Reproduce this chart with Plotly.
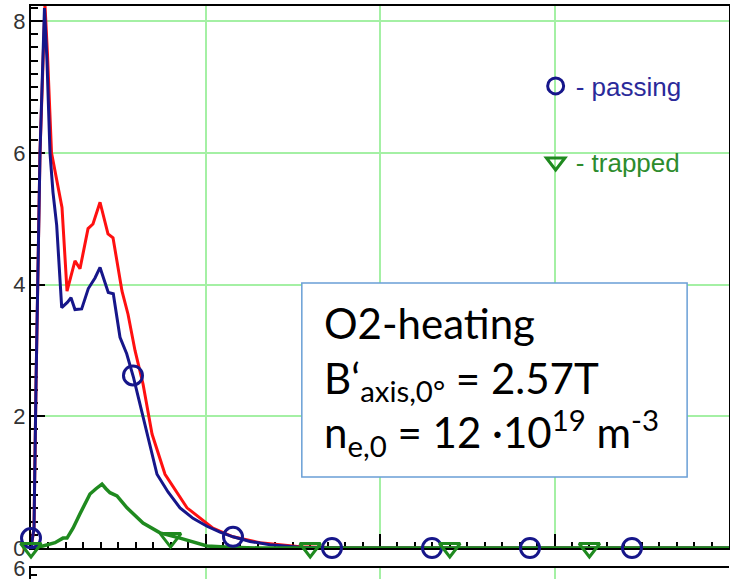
import plotly.graph_objects as go

# ---- data (x in normalised units, y values) ----
total_x = [0.0, 0.0043, 0.0072, 0.0129, 0.0200, 0.0236, 0.0294, 0.0372, 0.0444, 0.0516,
           0.0630, 0.0702, 0.0817, 0.0888, 0.0989, 0.1103, 0.1175, 0.1304, 0.1390, 0.1490,
           0.1605, 0.1734, 0.1920, 0.2235, 0.2607, 0.2894, 0.3281, 0.3854, 0.4570, 1.0]
total_y = [0.0, 0.3, 2.5, 6.0, 8.25, 7.5, 6.0, 5.58, 5.17, 3.9,
           4.36, 4.24, 4.85, 4.92, 5.25, 4.77, 4.71, 3.9, 3.55, 3.0,
           2.49, 1.73, 1.12, 0.61, 0.30, 0.17, 0.08, 0.02, 0.0, 0.0]

passing_x = [0.0, 0.0043, 0.0072, 0.0129, 0.0193, 0.0229, 0.0272, 0.0315, 0.0368, 0.0440,
             0.0520, 0.0573, 0.0630, 0.0726, 0.0821, 0.0917, 0.0989, 0.1107, 0.1179, 0.1275,
             0.1371, 0.1466, 0.1537, 0.1662, 0.1805, 0.1963, 0.2135, 0.2321, 0.2521, 0.2708,
             0.2894, 0.3138, 0.3424, 0.3854, 0.4570, 1.0]
passing_y = [0.0, 0.3, 2.5, 6.0, 8.2, 7.4, 6.0, 5.4, 4.9, 3.65,
             3.73, 3.80, 3.62, 3.63, 3.94, 4.10, 4.26, 3.88, 3.86, 3.2,
             2.95, 2.60, 2.29, 1.73, 1.12, 0.85, 0.61, 0.45, 0.33, 0.24,
             0.17, 0.10, 0.05, 0.01, 0.0, 0.0]

trapped_x = [0.0, 0.0172, 0.0344, 0.0458, 0.0516, 0.0602, 0.0702, 0.0845, 0.0931, 0.1017,
             0.1074, 0.1132, 0.1232, 0.1375, 0.1605, 0.1848, 0.2135, 0.2521, 0.2851, 0.3281, 1.0]
trapped_y = [0.0, 0.03, 0.08, 0.15, 0.15, 0.30, 0.52, 0.82, 0.90, 0.97,
             0.90, 0.84, 0.79, 0.61, 0.38, 0.23, 0.15, 0.03, 0.01, 0.0, 0.0]

passing_mark_x = [0.0, 0.1461, 0.2894, 0.4312, 0.5745, 0.7149, 0.8610]
passing_mark_y = [0.15, 2.62, 0.17, 0.0, 0.0, 0.0, 0.0]
trapped_mark_x = [0.0, 0.2, 0.4, 0.6, 0.8]
trapped_mark_y = [0.0, 0.15, 0.0, 0.0, 0.0]

y_ticks = [0, 2, 4, 6, 8]
lower_ticks = [6]

RED = "#ff1010"
NAVY = "#16168a"
GREEN = "#1f8a1f"
GRID = "#a4f0a4"

fig = go.Figure()
fig.add_trace(go.Scatter(x=total_x, y=total_y, mode="lines", line=dict(color=RED, width=3),
                         showlegend=False, cliponaxis=False))
fig.add_trace(go.Scatter(x=passing_x, y=passing_y, mode="lines", line=dict(color=NAVY, width=3),
                         showlegend=False, cliponaxis=False))
fig.add_trace(go.Scatter(x=trapped_x, y=trapped_y, mode="lines", line=dict(color=GREEN, width=3.5),
                         showlegend=False, cliponaxis=False))
fig.add_trace(go.Scatter(x=passing_mark_x, y=passing_mark_y, mode="markers", name="- passing",
                         marker=dict(symbol="circle-open", size=19, color=NAVY, line=dict(width=3, color=NAVY)),
                         cliponaxis=False, legend="legend"))
fig.add_trace(go.Scatter(x=trapped_mark_x, y=trapped_mark_y, mode="markers", name="- trapped",
                         marker=dict(symbol="triangle-down-open", size=18, color=GREEN, line=dict(width=3, color=GREEN)),
                         cliponaxis=False, legend="legend2"))
# lower (cut-off) panel
fig.add_trace(go.Scatter(x=[0.5], y=[5.0], mode="markers", xaxis="x2", yaxis="y2",
                         marker=dict(size=1, color="rgba(0,0,0,0)"), showlegend=False, hoverinfo="skip"))

tickfont = dict(family="Liberation Sans", size=22, color="#333333")

fig.update_layout(
    width=730, height=579,
    margin=dict(l=31, r=1, t=6, b=0),
    paper_bgcolor="white", plot_bgcolor="white",
    xaxis=dict(range=[0, 1], domain=[0, 1], anchor="y", showticklabels=False,
               ticks="inside", ticklen=14, tickwidth=1.5, tickcolor="black", tick0=0, dtick=0.25,
               minor=dict(dtick=0.025, ticks="inside", ticklen=6, tickwidth=1.5, tickcolor="black", showgrid=False),
               showgrid=True, gridcolor=GRID, gridwidth=1.5, zeroline=False,
               showline=True, linecolor="black", linewidth=2, mirror=True, layer="below traces"),
    yaxis=dict(range=[0, 8.23], domain=[0.0541, 1], anchor="x", tickvals=y_ticks,
               ticks="inside", ticklen=14, tickwidth=1.5, tickcolor="black",
               minor=dict(dtick=0.2, ticks="inside", ticklen=7, tickwidth=1.5, tickcolor="black", showgrid=False),
               showgrid=True, gridcolor=GRID, gridwidth=1.5, zeroline=False,
               showline=True, linecolor="black", linewidth=2, mirror=True,
               tickfont=tickfont, ticklabelstandoff=-1, automargin=False, layer="below traces"),
    xaxis2=dict(range=[0, 1], domain=[0, 1], anchor="y2", showticklabels=False, side="top",
                tick0=0, dtick=0.25, ticks="", showgrid=True, gridcolor=GRID, gridwidth=1.5, zeroline=False,
                showline=True, linecolor="black", linewidth=2),
    yaxis2=dict(range=[5.84, 6.012], domain=[0, 0.0192], anchor="x2", tickvals=lower_ticks,
                ticks="inside", ticklen=14, tickwidth=1.5, tickcolor="black",
                minor=dict(dtick=0.1, ticks="inside", ticklen=6, tickwidth=1.5, tickcolor="black", showgrid=False),
                showgrid=False, zeroline=False, showline=True, linecolor="black", linewidth=2,
                ticklabeloverflow="allow",
                tickfont=tickfont, ticklabelstandoff=-1, automargin=False),
    legend=dict(x=0.723, y=0.8604, xanchor="left", yanchor="middle", bgcolor="rgba(0,0,0,0)",
                font=dict(family="Liberation Sans", size=26, color="#2a2a9a")),
    legend2=dict(x=0.723, y=0.7277, xanchor="left", yanchor="middle", bgcolor="rgba(0,0,0,0)",
                 font=dict(family="Liberation Sans", size=26, color="#2d8c2d")),
    shapes=[dict(type="rect", xref="paper", yref="paper", x0=0.388, x1=0.940, y0=0.178, y1=0.5166,
                 line=dict(color="#6a9fd6", width=1.5), fillcolor="white", layer="above")],
    annotations=[dict(xref="paper", yref="paper", x=0.417, y=0.347, xanchor="left", yanchor="middle",
                      align="left", showarrow=False,
                      text="O2-heating<br>B‘<sub>axis,0°</sub> = 2.57T<br>n<sub>e,0</sub> = 12 ·10<sup>19</sup> m<sup>-3</sup>",
                      font=dict(family="Lato", size=42, color="black"))],
)

fig.write_html("out.html")
